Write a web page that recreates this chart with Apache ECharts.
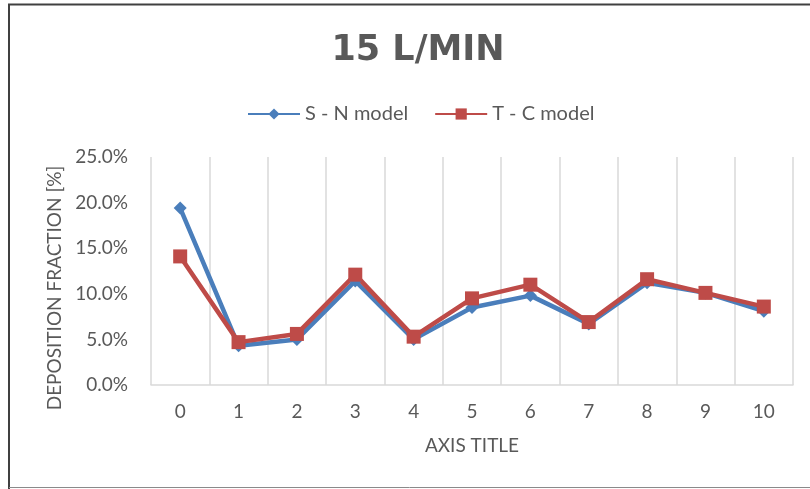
<!DOCTYPE html>
<html>
<head>
<meta charset="utf-8">
<script src="https://cdn.jsdelivr.net/npm/echarts@6/dist/echarts.min.js"></script>
<style>
  html, body { margin: 0; padding: 0; background: #fff; }
  #chart { width: 810px; height: 489px; }
</style>
</head>
<body>
<div id="chart"></div>
<script>
// Deposition fraction (%) per generation, 15 L/min flow
const generations = ['0', '1', '2', '3', '4', '5', '6', '7', '8', '9', '10'];
const snModel = [19.4, 4.3, 5.0, 11.4, 5.0, 8.5, 9.8, 6.7, 11.2, 10.1, 8.1];
const tcModel = [14.1, 4.7, 5.6, 12.1, 5.3, 9.5, 11.0, 6.9, 11.6, 10.1, 8.6];
const yTicks = [0, 5, 10, 15, 20, 25];

const FONT = 'Lato';
const TEXT = '#595959';
const GRIDLINE = '#d9d9d9';

const chart = echarts.init(document.getElementById('chart'), null, { renderer: 'canvas' });

chart.setOption({
  backgroundColor: '#ffffff',
  animation: false,
  title: {
    text: '15 L/MIN',
    left: 413,
    textAlign: 'center',
    top: 28,
    textStyle: { fontFamily: 'DejaVu Sans', fontSize: 35, fontWeight: 'bold', color: TEXT }
  },
  legend: {
    top: 99,
    left: 242,
    itemWidth: 52,
    itemHeight: 14,
    itemGap: 26,
    textStyle: { fontFamily: FONT, fontSize: 20, color: TEXT },
    data: ['S - N model', 'T - C model']
  },
  grid: { left: 151, right: 17, top: 157, bottom: 104 },
  xAxis: {
    type: 'category',
    data: generations,
    boundaryGap: true,
    name: 'AXIS TITLE',
    nameLocation: 'middle',
    nameGap: 51,
    nameTextStyle: { fontFamily: FONT, fontSize: 19, color: TEXT },
    axisLine: { lineStyle: { color: GRIDLINE, width: 1.5 } },
    axisTick: { show: false },
    axisLabel: { fontFamily: FONT, fontSize: 19, color: TEXT, margin: 17 },
    splitLine: { show: true, lineStyle: { color: GRIDLINE, width: 1.5 } }
  },
  yAxis: {
    type: 'value',
    min: yTicks[0],
    max: yTicks[yTicks.length - 1],
    interval: yTicks[1] - yTicks[0],
    axisLine: { show: false },
    axisTick: { show: false },
    splitLine: { show: false },
    axisLabel: {
      fontFamily: FONT, fontSize: 19, color: TEXT, margin: 23,
      formatter: v => v.toFixed(1) + '%'
    }
  },
  graphic: [
    {
      type: 'text',
      x: 55, y: 288,
      rotation: Math.PI / 2,
      style: {
        text: 'DEPOSITION FRACTION [%]',
        fontFamily: FONT, fontSize: 19, fill: TEXT,
        align: 'center', verticalAlign: 'middle'
      }
    },
    { type: 'line', shape: { x1: 8, y1: 4.5, x2: 810, y2: 4.5 }, style: { stroke: '#404040', lineWidth: 2 } },
    { type: 'line', shape: { x1: 9, y1: 4, x2: 9, y2: 489 }, style: { stroke: '#404040', lineWidth: 2 } },
    { type: 'line', shape: { x1: 9, y1: 487.5, x2: 810, y2: 487.5 }, style: { stroke: '#8a8a8a', lineWidth: 1 } }
  ],
  series: [
    {
      name: 'S - N model',
      type: 'line',
      data: snModel,
      symbol: 'diamond',
      symbolSize: 13,
      color: '#4A7EBB',
      lineStyle: { width: 4.5, color: '#4A7EBB' },
      itemStyle: { color: '#4A7EBB' }
    },
    {
      name: 'T - C model',
      type: 'line',
      data: tcModel,
      symbol: 'rect',
      symbolSize: 14,
      color: '#BE4B48',
      lineStyle: { width: 4.5, color: '#BE4B48' },
      itemStyle: { color: '#BE4B48' }
    }
  ]
});
</script>
</body>
</html>
